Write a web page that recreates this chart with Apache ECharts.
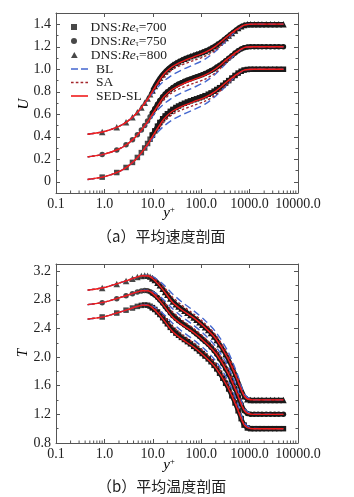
<!DOCTYPE html>
<html><head><meta charset="utf-8">
<script src="https://cdn.jsdelivr.net/npm/echarts@6/dist/echarts.min.js"></script>
<style>html,body{margin:0;padding:0;background:#fff}#c{width:354px;height:497px}</style>
</head><body><div id="c"></div>
<script>
// ---------- tick labels ----------
const xTickLabels = ['0.1','1.0','10.0','100.0','1000.0','10000.0'];
const captionA = '（a）平均速度剖面';
const captionB = '（b）平均温度剖面';

// ---------- y+ positions ----------
const yPlusDNS = [0.9,1.8,2.8,3.8,4.8,5.8,6.8,7.8,8.8,9.8,11,12.5,14,16,18,20,23,26,30,34,39,45,52,60,70,80,92,105,120,140,160,185,210,240,280,320,370,430,500,580,670,770,900,1050,1250,1500,1800,2200,2700,3300,4000,5000];
const yPlusModel = [0.45,1,2,3,4,5,6,8,10,13,17,25,40,70,120,200,350,550,800,1200,5000];

// ---------- velocity U ----------
const U_DNS_700 = [0.041,0.082,0.127,0.172,0.216,0.259,0.300,0.340,0.378,0.414,0.452,0.494,0.527,0.560,0.585,0.604,0.626,0.643,0.660,0.673,0.686,0.698,0.709,0.719,0.729,0.737,0.746,0.755,0.765,0.778,0.790,0.805,0.820,0.836,0.857,0.877,0.899,0.922,0.945,0.966,0.982,0.993,0.998,1.000,1.000,1.000,1.000,1.000,1.000,1.000,1.000,1.000];
const U_DNS_750 = [0.242,0.283,0.328,0.373,0.417,0.460,0.501,0.540,0.577,0.612,0.650,0.690,0.723,0.755,0.780,0.799,0.821,0.838,0.855,0.868,0.881,0.893,0.904,0.914,0.924,0.933,0.942,0.952,0.962,0.975,0.988,1.003,1.019,1.035,1.056,1.076,1.098,1.121,1.144,1.165,1.181,1.192,1.198,1.200,1.200,1.200,1.200,1.200,1.200,1.200,1.200,1.200];
const U_DNS_800 = [0.443,0.484,0.529,0.574,0.618,0.661,0.702,0.741,0.778,0.813,0.851,0.891,0.924,0.956,0.981,1.000,1.022,1.039,1.056,1.069,1.082,1.094,1.105,1.115,1.125,1.134,1.143,1.153,1.163,1.176,1.189,1.204,1.220,1.236,1.257,1.277,1.299,1.322,1.345,1.366,1.382,1.393,1.399,1.401,1.401,1.401,1.401,1.401,1.401,1.401,1.401,1.401];

const U_SED_700 = [0.020,0.045,0.090,0.135,0.180,0.223,0.265,0.338,0.408,0.486,0.558,0.624,0.670,0.712,0.750,0.806,0.893,0.956,0.995,1.000,1.000];
const U_SA_700  = [0.020,0.045,0.090,0.135,0.180,0.222,0.263,0.334,0.398,0.470,0.530,0.597,0.640,0.679,0.716,0.773,0.872,0.950,0.994,1.000,1.000];
const U_BL_700  = [0.020,0.045,0.090,0.135,0.179,0.221,0.261,0.330,0.386,0.446,0.495,0.548,0.595,0.640,0.690,0.762,0.866,0.948,0.994,1.000,1.000];
const U_SED_750 = [0.221,0.246,0.291,0.336,0.381,0.424,0.466,0.538,0.607,0.684,0.755,0.820,0.866,0.908,0.947,1.004,1.092,1.156,1.195,1.200,1.200];
const U_SA_750  = [0.221,0.246,0.291,0.336,0.381,0.423,0.464,0.534,0.597,0.668,0.727,0.793,0.836,0.875,0.913,0.971,1.071,1.150,1.194,1.200,1.200];
const U_BL_750  = [0.221,0.246,0.291,0.336,0.380,0.422,0.462,0.530,0.585,0.644,0.692,0.745,0.792,0.838,0.888,0.960,1.065,1.148,1.194,1.200,1.200];
const U_SED_800 = [0.422,0.447,0.492,0.537,0.582,0.625,0.667,0.740,0.810,0.887,0.958,1.022,1.068,1.110,1.149,1.206,1.293,1.356,1.395,1.401,1.401];
const U_SA_800  = [0.422,0.447,0.492,0.537,0.582,0.624,0.665,0.736,0.800,0.871,0.930,0.996,1.039,1.078,1.116,1.173,1.272,1.350,1.394,1.401,1.401];
const U_BL_800  = [0.422,0.447,0.492,0.537,0.581,0.623,0.663,0.732,0.788,0.847,0.895,0.948,0.995,1.040,1.090,1.162,1.266,1.348,1.394,1.401,1.401];

// ---------- temperature T ----------
const T_DNS_700 = [2.560,2.615,2.655,2.685,2.708,2.722,2.728,2.724,2.710,2.690,2.665,2.630,2.595,2.550,2.505,2.465,2.415,2.375,2.335,2.305,2.275,2.245,2.215,2.185,2.150,2.120,2.085,2.050,2.015,1.975,1.935,1.885,1.835,1.775,1.705,1.635,1.555,1.460,1.360,1.250,1.140,1.050,1.010,1.000,1.000,1.000,1.000,1.000,1.000,1.000,1.000,1.000];
const T_DNS_750 = [2.760,2.815,2.855,2.885,2.908,2.922,2.929,2.926,2.913,2.893,2.868,2.833,2.797,2.752,2.707,2.667,2.617,2.578,2.538,2.508,2.478,2.448,2.418,2.388,2.353,2.323,2.288,2.253,2.218,2.178,2.138,2.088,2.038,1.978,1.908,1.838,1.758,1.662,1.562,1.452,1.342,1.252,1.211,1.200,1.200,1.200,1.200,1.200,1.200,1.200,1.200,1.200];
const T_DNS_800 = [2.965,3.020,3.062,3.093,3.117,3.132,3.139,3.136,3.122,3.101,3.075,3.039,3.002,2.956,2.910,2.869,2.818,2.778,2.738,2.708,2.678,2.648,2.618,2.588,2.553,2.523,2.488,2.453,2.418,2.378,2.338,2.288,2.238,2.178,2.108,2.038,1.958,1.862,1.762,1.652,1.542,1.452,1.411,1.402,1.402,1.402,1.402,1.402,1.402,1.402,1.402,1.402];

const T_SED_700 = [2.530,2.565,2.625,2.662,2.692,2.712,2.725,2.722,2.683,2.605,2.512,2.365,2.250,2.140,2.005,1.850,1.585,1.290,1.040,1.000,1.000];
const T_SA_700  = [2.530,2.565,2.625,2.662,2.692,2.712,2.726,2.728,2.698,2.640,2.565,2.435,2.315,2.195,2.060,1.900,1.635,1.325,1.050,1.000,1.000];
const T_BL_700  = [2.530,2.565,2.625,2.662,2.692,2.713,2.727,2.732,2.710,2.660,2.595,2.480,2.360,2.240,2.105,1.945,1.685,1.370,1.070,1.003,1.000];
const T_SED_750 = [2.732,2.767,2.827,2.864,2.894,2.914,2.927,2.924,2.886,2.808,2.715,2.568,2.453,2.343,2.208,2.053,1.788,1.492,1.241,1.200,1.200];
const T_SA_750  = [2.732,2.767,2.827,2.864,2.894,2.914,2.928,2.930,2.901,2.843,2.768,2.638,2.518,2.398,2.263,2.103,1.838,1.527,1.251,1.200,1.200];
const T_BL_750  = [2.732,2.767,2.827,2.864,2.894,2.915,2.929,2.934,2.913,2.863,2.798,2.683,2.563,2.443,2.308,2.148,1.888,1.572,1.271,1.203,1.200];
const T_SED_800 = [2.935,2.972,3.033,3.071,3.102,3.123,3.136,3.133,3.095,3.016,2.922,2.774,2.658,2.547,2.412,2.256,1.990,1.694,1.443,1.402,1.402];
const T_SA_800  = [2.935,2.972,3.033,3.071,3.102,3.123,3.137,3.139,3.110,3.051,2.975,2.844,2.723,2.602,2.467,2.306,2.040,1.729,1.453,1.402,1.402];
const T_BL_800  = [2.935,2.972,3.033,3.071,3.102,3.124,3.138,3.143,3.122,3.071,3.005,2.889,2.768,2.647,2.512,2.351,2.090,1.774,1.473,1.405,1.402];

// ---------- styling ----------
const SERIF = '"Liberation Serif","Times New Roman",serif';
const AX = '#555';
const C_DNS = '#1a1a1a', C_BL = '#4467cf', C_SA = '#a3262b', C_SED = '#f01c1c';
const NEAR_WALL_LIMIT = 10; // DNS points below this y+ are drawn as separate markers

function pair(xs, ys){ return xs.map((x,i)=>[x, ys[i]]); }

const minorX = [];
for (let e = -1; e <= 3; e++) for (let m = 2; m <= 9; m++) minorX.push(+(m*Math.pow(10,e)).toPrecision(3));

function dnsSeries(name, sym, ys, g){
  const pts = pair(yPlusDNS, ys);
  const near = pts.filter(p => p[0] < NEAR_WALL_LIMIT);
  const far = pts.filter(p => p[0] >= NEAR_WALL_LIMIT - 0.5);
  const size = sym === 'triangle' ? 6.5 : 5.5;
  return [
    {type:'scatter', name, symbol:sym, symbolSize:size, xAxisIndex:g*2, yAxisIndex:g*2,
     data:near, itemStyle:{color:C_DNS}, z:2, silent:true},
    {type:'line', name, symbol:sym, symbolSize:size, showSymbol:true, showAllSymbol:true,
     xAxisIndex:g*2, yAxisIndex:g*2, data:far, itemStyle:{color:C_DNS},
     lineStyle:{color:C_DNS, width:4.5}, z:2, silent:true}
  ];
}
function lineSeries(name, ys, g, color, type, z){
  return {type:'line', name, xAxisIndex:g*2, yAxisIndex:g*2, data:pair(yPlusModel, ys),
    showSymbol:false, symbol:'none', smooth:0.3, silent:true,
    lineStyle:{color, width:1.4, type}, itemStyle:{color}, z};
}
function minorSeries(g, yv){
  return {type:'custom', xAxisIndex:g*2, yAxisIndex:g*2, silent:true, clip:false, z:5,
    data: minorX.map(v=>[v, yv]),
    renderItem(params, api){
      const cs = params.coordSys;
      const x = api.coord([api.value(0), api.value(1)])[0];
      const yb = cs.y + cs.height;
      return {type:'line', shape:{x1:x, y1:yb, x2:x, y2:yb-2.5}, style:{stroke:AX, lineWidth:1}};
    }};
}

const BLdash = [7,4], SAdash = [2.5,2.2];

const series = [
  ...dnsSeries('DNS700','rect',U_DNS_700,0), ...dnsSeries('DNS750','circle',U_DNS_750,0), ...dnsSeries('DNS800','triangle',U_DNS_800,0),
  ...dnsSeries('DNS700','rect',T_DNS_700,1), ...dnsSeries('DNS750','circle',T_DNS_750,1), ...dnsSeries('DNS800','triangle',T_DNS_800,1),
  lineSeries('BL',U_BL_700,0,C_BL,BLdash,3), lineSeries('BL',U_BL_750,0,C_BL,BLdash,3), lineSeries('BL',U_BL_800,0,C_BL,BLdash,3),
  lineSeries('SA',U_SA_700,0,C_SA,SAdash,3), lineSeries('SA',U_SA_750,0,C_SA,SAdash,3), lineSeries('SA',U_SA_800,0,C_SA,SAdash,3),
  lineSeries('SED-SL',U_SED_700,0,C_SED,'solid',4), lineSeries('SED-SL',U_SED_750,0,C_SED,'solid',4), lineSeries('SED-SL',U_SED_800,0,C_SED,'solid',4),
  lineSeries('BL',T_BL_700,1,C_BL,BLdash,3), lineSeries('BL',T_BL_750,1,C_BL,BLdash,3), lineSeries('BL',T_BL_800,1,C_BL,BLdash,3),
  lineSeries('SA',T_SA_700,1,C_SA,SAdash,3), lineSeries('SA',T_SA_750,1,C_SA,SAdash,3), lineSeries('SA',T_SA_800,1,C_SA,SAdash,3),
  lineSeries('SED-SL',T_SED_700,1,C_SED,'solid',4), lineSeries('SED-SL',T_SED_750,1,C_SED,'solid',4), lineSeries('SED-SL',T_SED_800,1,C_SED,'solid',4),
  minorSeries(0, 0.5), minorSeries(1, 2.0)
];

const axLine = {show:true, onZero:false, lineStyle:{color:AX, width:1}};
const tick = {show:true, inside:true, length:4, lineStyle:{color:AX, width:1}};
const minor = {show:true, splitNumber:2, length:2.5, lineStyle:{color:AX, width:1}};
const lbl = {fontFamily:SERIF, fontSize:14, color:'#222'};

function xAxes(g){
  return [
    {type:'log', logBase:10, gridIndex:g, min:0.1, max:10000, position:'bottom',
      axisLine:axLine, axisTick:tick, splitLine:{show:false},
      axisLabel:Object.assign({margin:4, formatter:v=>xTickLabels[Math.round(Math.log10(v))+1]}, lbl)},
    {type:'log', logBase:10, gridIndex:g, min:0.1, max:10000, position:'top',
      axisLine:axLine, axisTick:tick, splitLine:{show:false}, axisLabel:{show:false}}
  ];
}
const fmtU = v => (Math.abs(v*5 - Math.round(v*5)) > 1e-6) ? '' : (Math.abs(v) < 1e-9 ? '0' : v.toFixed(1));
const fmtT = v => (Math.abs(v/0.4 - Math.round(v/0.4)) > 1e-6) ? '' : v.toFixed(1);

const yAxes = [
  {type:'value', gridIndex:0, min:-0.1, max:1.5, splitNumber:8, position:'left',
   axisLine:axLine, axisTick:tick, minorTick:minor, splitLine:{show:false},
   axisLabel:Object.assign({margin:5, formatter:fmtU}, lbl)},
  {type:'value', gridIndex:0, min:-0.1, max:1.5, splitNumber:8, position:'right',
   axisLine:axLine, axisTick:tick, minorTick:minor, splitLine:{show:false}, axisLabel:{show:false}},
  {type:'value', gridIndex:1, min:0.8, max:3.3, interval:0.4, position:'left',
   axisLine:axLine, axisTick:tick, minorTick:minor, splitLine:{show:false},
   axisLabel:Object.assign({margin:5, formatter:fmtT}, lbl)},
  {type:'value', gridIndex:1, min:0.8, max:3.3, interval:0.4, position:'right',
   axisLine:axLine, axisTick:tick, minorTick:minor, splitLine:{show:false}, axisLabel:{show:false}}
];

// legend: one component per row so that each row sits at its own height
const legendNames = {
  'DNS700':'{g| }{t|DNS:}{i|Re}{s|τ}{t|=700}',
  'DNS750':'{g| }{t|DNS:}{i|Re}{s|τ}{t|=750}',
  'DNS800':'{g| }{t|DNS:}{i|Re}{s|τ}{t|=800}',
  'BL':'{g| }{t|BL}', 'SA':'{g| }{t|SA}', 'SED-SL':'{g| }{t|SED-SL}'
};
const legendData = [
  {name:'DNS700', icon:'path://M0,0h5v5h-5z', itemStyle:{color:C_DNS, borderWidth:0}},
  {name:'DNS750', icon:'path://M0,3a3,3 0 1,0 6,0a3,3 0 1,0 -6,0z', itemStyle:{color:C_DNS, borderWidth:0}},
  {name:'DNS800', icon:'path://M3,0L6,5.4L0,5.4z', itemStyle:{color:C_DNS, borderWidth:0}},
  {name:'BL', icon:'path://M0,0h7v1.6h-7z M10,0h7v1.6h-7z', itemStyle:{color:C_BL, borderWidth:0}},
  {name:'SA', icon:'path://M0,0h2.6v1.6h-2.6z M4.8,0h2.6v1.6h-2.6z M9.6,0h2.6v1.6h-2.6z M14.4,0h2.6v1.6h-2.6z', itemStyle:{color:C_SA, borderWidth:0}},
  {name:'SED-SL', icon:'path://M0,0h17v1.6h-17z', itemStyle:{color:C_SED, borderWidth:0}}
];
const legendRowCenters = [27, 41, 55, 69, 82.5, 96];
const legendText = {fontFamily:SERIF, fontSize:13.5, color:'#222', lineHeight:14,
  rich:{
    g:{width:3, fontFamily:SERIF, fontSize:13.5, lineHeight:14},
    t:{fontFamily:SERIF, fontSize:13.5, color:'#222', lineHeight:14},
    i:{fontFamily:SERIF, fontStyle:'italic', fontSize:13.5, color:'#222', lineHeight:14},
    s:{fontFamily:SERIF, fontSize:8, color:'#222', verticalAlign:'bottom', lineHeight:9}
  }};
const legends = legendData.map((d, k) => ({
  left:71, top:legendRowCenters[k] - 7, orient:'vertical', itemWidth:17, itemHeight:6, itemGap:0,
  symbolKeepAspect:true, selectedMode:false, padding:0, data:[d], formatter:n=>legendNames[n], textStyle:legendText
}));

// axis names as text
const nameRich = {i:{fontFamily:SERIF, fontStyle:'italic', fontSize:15, color:'#222', lineHeight:16},
                  s:{fontFamily:SERIF, fontSize:9, color:'#222', verticalAlign:'top', lineHeight:9}};
const graphic = [
  {type:'text', x:24, y:104, rotation:Math.PI/2, style:{text:'{i|U}', rich:nameRich, align:'center', verticalAlign:'middle'}},
  {type:'text', x:23, y:353, rotation:Math.PI/2, style:{text:'{i|T}', rich:nameRich, align:'center', verticalAlign:'middle'}},
  {type:'text', x:169, y:213, style:{text:'{i|y}{s|+}', rich:nameRich, align:'center', verticalAlign:'middle'}},
  {type:'text', x:169, y:465, style:{text:'{i|y}{s|+}', rich:nameRich, align:'center', verticalAlign:'middle'}}
];

const option = {
  animation:false,
  backgroundColor:'#fff',
  title:[
    {text:captionA, left:92, top:224, textStyle:{fontFamily:'"Noto Sans CJK SC"', fontSize:15, fontWeight:'normal', color:'#222'}},
    {text:captionB, left:92, top:474, textStyle:{fontFamily:'"Noto Sans CJK SC"', fontSize:15, fontWeight:'normal', color:'#222'}}
  ],
  grid:[
    {left:56, top:13, width:242, height:180},
    {left:56, top:264, width:242, height:179}
  ],
  legend:legends,
  graphic,
  xAxis:[...xAxes(0), ...xAxes(1)],
  yAxis:yAxes,
  series
};
const chart = echarts.init(document.getElementById('c'), null, {renderer:'canvas'});
chart.setOption(option);
</script>
</body></html>
